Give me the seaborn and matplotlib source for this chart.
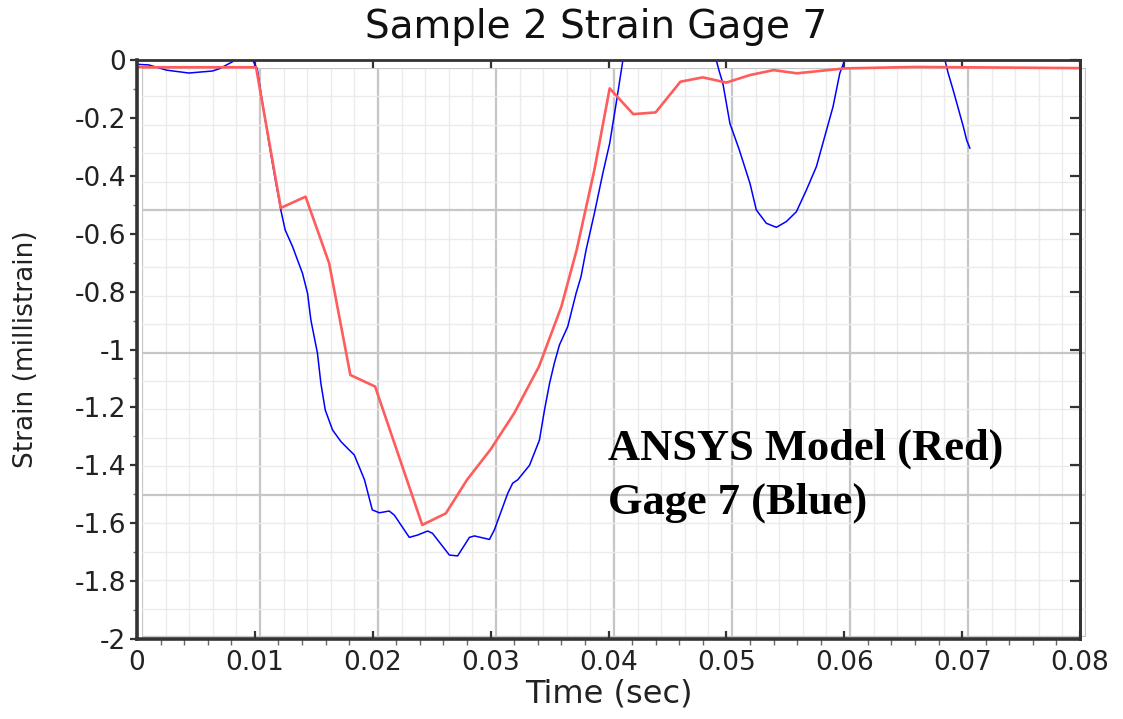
import numpy as np
import pandas as pd
import matplotlib
matplotlib.use("Agg")
import matplotlib.pyplot as plt
import seaborn as sns
from matplotlib.ticker import MultipleLocator, FixedLocator, FuncFormatter

# ---------------- data ----------------
red_t = [0, 0.0101, 0.0122, 0.0143, 0.0163, 0.0181, 0.0202, 0.0242, 0.0262, 0.0280,
         0.0300, 0.0320, 0.0341, 0.0360, 0.0373, 0.0388, 0.0401, 0.0421, 0.0440, 0.0461,
         0.0480, 0.0500, 0.0520, 0.0540, 0.0560, 0.0600, 0.0660, 0.0800]
red_v = [-0.025, -0.025, -0.511, -0.472, -0.702, -1.088, -1.128, -1.606, -1.566, -1.45,
         -1.345, -1.22, -1.059, -0.852, -0.656, -0.38, -0.098, -0.187, -0.181, -0.075,
         -0.06, -0.078, -0.052, -0.035, -0.046, -0.029, -0.024, -0.028]

blue_t = [0, 0.0010, 0.0025, 0.0044, 0.0064, 0.0070, 0.0081, 0.0086, 0.0092, 0.0098,
          0.0102, 0.01056, 0.0112, 0.01163, 0.0122, 0.01257, 0.0132, 0.01404, 0.01447, 0.01475,
          0.01531, 0.0156, 0.01597, 0.01659, 0.0173, 0.0180, 0.01843, 0.0193, 0.01996, 0.02055,
          0.0214, 0.02183, 0.0231, 0.0238, 0.02466, 0.02507, 0.0265, 0.0272, 0.0282, 0.02862,
          0.0299, 0.03032, 0.03145, 0.03187, 0.0323, 0.0333, 0.03414, 0.03457, 0.0350, 0.0354,
          0.03584, 0.03654, 0.03725, 0.03767, 0.0381, 0.0388, 0.03952, 0.0401, 0.04065, 0.0412,
          0.0425, 0.0450, 0.0475, 0.04914, 0.0494, 0.0497, 0.0503, 0.0511, 0.0520, 0.05254,
          0.05339, 0.05424, 0.05509, 0.05594, 0.05679, 0.05764, 0.05834, 0.05905, 0.05962, 0.06004,
          0.0620, 0.0643, 0.0665, 0.06854, 0.06882, 0.06924, 0.06967, 0.0701, 0.07038, 0.07066]
blue_v = [-0.015, -0.017, -0.035, -0.045, -0.038, -0.03, -0.006, 0.03, 0.05, 0.0,
          -0.03, -0.127, -0.287, -0.39, -0.518, -0.587, -0.645, -0.737, -0.806, -0.898,
          -1.013, -1.117, -1.209, -1.278, -1.318, -1.347, -1.364, -1.45, -1.554, -1.564,
          -1.558, -1.572, -1.649, -1.641, -1.627, -1.635, -1.71, -1.713, -1.649, -1.644,
          -1.656, -1.623, -1.497, -1.462, -1.45, -1.40, -1.313, -1.209, -1.117, -1.048,
          -0.984, -0.921, -0.806, -0.748, -0.656, -0.53, -0.391, -0.288, -0.15, -0.006,
          0.25, 0.4, 0.25, 0.0, -0.04, -0.08, -0.219, -0.311, -0.426, -0.518,
          -0.564, -0.578, -0.558, -0.524, -0.449, -0.368, -0.265, -0.161, -0.046, 0.0,
          0.3, 0.45, 0.3, 0.0, -0.046, -0.104, -0.167, -0.23, -0.276, -0.305]

title = "Sample 2 Strain Gage 7"
xlabel = "Time (sec)"
ylabel = "Strain (millistrain)"
note = "ANSYS Model (Red)\nGage 7 (Blue)"

df_red = pd.DataFrame({"t": red_t, "v": red_v})
df_blue = pd.DataFrame({"t": blue_t, "v": blue_v})

# ---------------- style ----------------
sns.set_theme(style="white")
plt.rcParams["font.family"] = ["DejaVu Sans"]
plt.rcParams["axes.unicode_minus"] = False

W, H = 1123, 719
fig = plt.figure(figsize=(W / 100, H / 100), dpi=100)
fig.patch.set_facecolor("white")


def rect(x0, y0, x1, y1):
    return [x0 / W, 1 - y1 / H, (x1 - x0) / W, (y1 - y0) / H]


# background grid plane (slightly offset, like the original)
axg = fig.add_axes(rect(142, 68, 1086, 637))
axg.set_xlim(0, 0.08)
axg.set_ylim(-2, 0)
axg.xaxis.set_major_locator(MultipleLocator(0.01))
axg.xaxis.set_minor_locator(MultipleLocator(0.002))
axg.yaxis.set_major_locator(MultipleLocator(0.5))
axg.yaxis.set_minor_locator(MultipleLocator(0.1))
axg.grid(which="minor", color="#ebebeb", lw=1.0)
axg.grid(which="major", color="#c6c6c6", lw=1.6)
axg.tick_params(which="both", length=0, labelbottom=False, labelleft=False)
for s in axg.spines.values():
    s.set_visible(False)
axg.set_facecolor("white")

# main axes
ax = fig.add_axes(rect(137, 60, 1080, 639))
ax.set_facecolor("none")

sns.lineplot(data=df_blue, x="t", y="v", ax=ax, color="#0000ff", lw=1.1,
             sort=False, estimator=None)
sns.lineplot(data=df_red, x="t", y="v", ax=ax, color="#ff5c5c", lw=1.9,
             sort=False, estimator=None)

ax.set_xlim(0, 0.08)
ax.set_ylim(-2, 0)
ax.xaxis.set_major_locator(MultipleLocator(0.01))
ax.xaxis.set_minor_locator(MultipleLocator(0.002))
ax.yaxis.set_major_locator(MultipleLocator(0.2))
ax.yaxis.set_minor_locator(FixedLocator(np.arange(-1.9, 0, 0.2)))


def xfmt(v, p):
    return "0" if abs(v) < 1e-12 else f"{v:.2f}"


def yfmt(v, p):
    r = round(v, 1)
    return "0" if abs(r) < 1e-9 else f"{r:g}"


ax.xaxis.set_major_formatter(FuncFormatter(xfmt))
ax.yaxis.set_major_formatter(FuncFormatter(yfmt))

ax.tick_params(axis="x", which="major", direction="in", top=True, bottom=True,
               length=6, width=1.6, color="#333333", labelsize=19, pad=8,
               labelcolor="#222222")
ax.tick_params(axis="x", which="minor", direction="out", top=False, bottom=True,
               length=4, width=1.0, color="#666666")
ax.tick_params(axis="y", which="major", direction="out", left=True, right=False,
               length=5, width=1.6, color="#333333", labelsize=19, pad=3,
               labelcolor="#222222")
ax.tick_params(axis="y", which="minor", direction="out", left=True, right=False,
               length=3, width=1.0, color="#666666")

sec = ax.secondary_yaxis("right")
sec.yaxis.set_major_locator(MultipleLocator(0.2))
sec.tick_params(direction="in", length=7, width=1.6, color="#333333", labelright=False)
sec.spines["right"].set_color("#333333")
sec.spines["right"].set_linewidth(2)

for s in ax.spines.values():
    s.set_visible(True)
    s.set_color("#333333")
    s.set_linewidth(2)
ax.spines["left"].set_linewidth(2.6)
ax.spines["bottom"].set_linewidth(2.6)

ax.set_title(title, fontsize=28, pad=16, color="#111111", x=0.487)
ax.set_xlabel(xlabel, fontsize=23, labelpad=2, color="#222222")
ax.set_ylabel(ylabel, fontsize=19, color="#222222")
ax.yaxis.set_label_coords(-0.104, 0.5)

ax.text(0.04, -1.565, note, fontfamily="Liberation Serif", fontweight="bold",
        fontsize=32, va="baseline", ha="left", linespacing=1.41, color="black")

fig.savefig("out.png", dpi=100, facecolor="white")
